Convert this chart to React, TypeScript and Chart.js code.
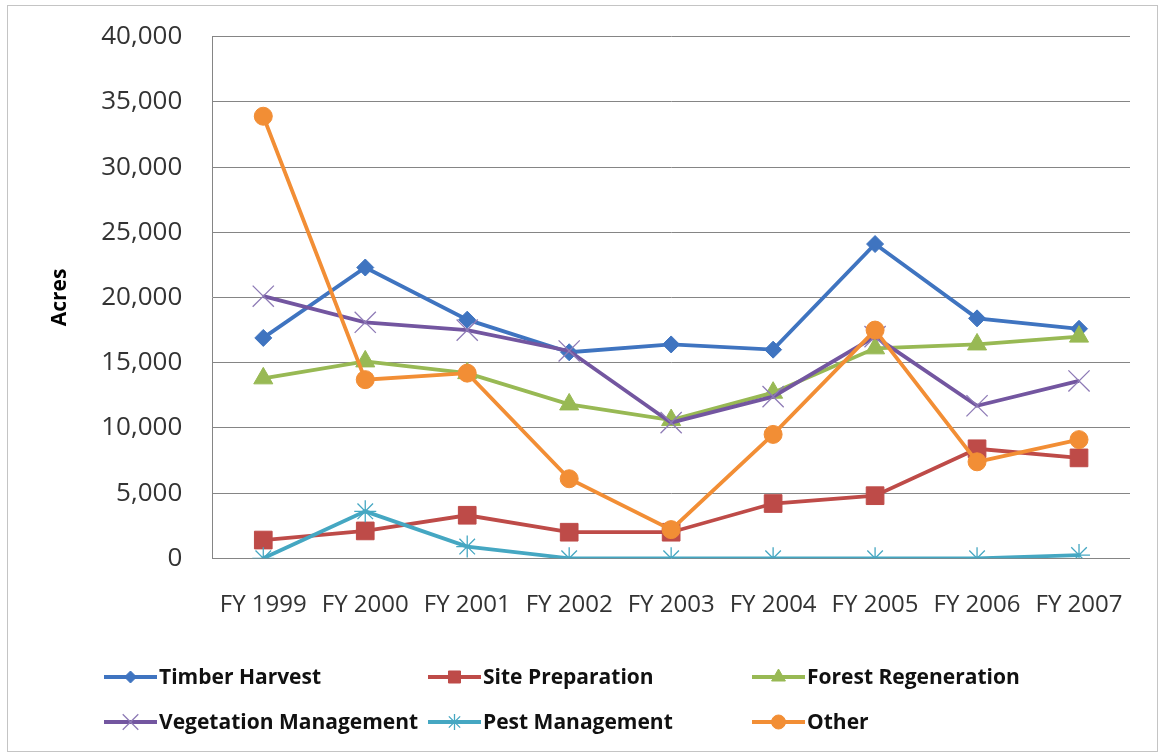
import { useEffect, useRef } from "react";
import { Chart, registerables } from "chart.js";
import { drawPoint } from "chart.js/helpers";

Chart.register(...registerables);

// Fiscal years on the category axis
const years = ["FY 1999", "FY 2000", "FY 2001", "FY 2002", "FY 2003", "FY 2004", "FY 2005", "FY 2006", "FY 2007"];

// Acres treated per activity type
const timberHarvest = [16900, 22300, 18300, 15800, 16400, 16000, 24100, 18400, 17600];
const sitePreparation = [1400, 2100, 3300, 2000, 2000, 4200, 4800, 8400, 7700];
const forestRegeneration = [13800, 15100, 14200, 11800, 10600, 12700, 16100, 16400, 17000];
const vegetationManagement = [20100, 18100, 17500, 15900, 10400, 12400, 17000, 11700, 13600];
const pestManagement = [0, 3600, 900, 0, 0, 0, 0, 0, 250];
const other = [33900, 13700, 14200, 6100, 2200, 9500, 17500, 7400, 9100];

// Value axis range
const yMin = 0;
const yMax = 40000;
const yStep = 5000;

const FONT = "'Open Sans', 'DejaVu Sans', sans-serif";

type SeriesStyle = {
  label: string;
  data: number[];
  color: string;
  pointColor: string;
  pointStyle: string;
  radius: number;
  pointBorder: number;
  lineWidth: number;
  legendRadius: number;
};

const series: SeriesStyle[] = [
  { label: "Timber Harvest", data: timberHarvest, color: "#3F74C0", pointColor: "#3F74C0", pointStyle: "rectRot", radius: 8.5, pointBorder: 1, lineWidth: 3.8, legendRadius: 6 },
  { label: "Site Preparation", data: sitePreparation, color: "#BE4B48", pointColor: "#BE4B48", pointStyle: "rect", radius: 12.5, pointBorder: 1, lineWidth: 3.8, legendRadius: 8.5 },
  { label: "Forest Regeneration", data: forestRegeneration, color: "#98B954", pointColor: "#98B954", pointStyle: "triangle", radius: 11, pointBorder: 1, lineWidth: 3.8, legendRadius: 8 },
  { label: "Vegetation Management", data: vegetationManagement, color: "#7356A0", pointColor: "#8E7BB6", pointStyle: "crossRot", radius: 15, pointBorder: 1.3, lineWidth: 3.8, legendRadius: 11 },
  { label: "Pest Management", data: pestManagement, color: "#45A7C2", pointColor: "#45A7C2", pointStyle: "star", radius: 11, pointBorder: 1.3, lineWidth: 3.8, legendRadius: 8 },
  { label: "Other", data: other, color: "#F28E35", pointColor: "#F28E35", pointStyle: "circle", radius: 9, pointBorder: 1, lineWidth: 3.8, legendRadius: 7 },
];

// Legend grid: three columns, two rows under the plot
const legendCols = [104, 428, 752];
const legendRows = [677, 722];

const framePlugin = {
  id: "frame",
  beforeDraw(chart: Chart) {
    const ctx = chart.ctx;
    ctx.save();
    ctx.fillStyle = "#ffffff";
    ctx.fillRect(0, 0, chart.width, chart.height);
    ctx.strokeStyle = "#c4c4c4";
    ctx.lineWidth = 1;
    ctx.strokeRect(7.5, 5.5, 1150, 746);
    ctx.restore();
  },
};

const legendPlugin = {
  id: "gridLegend",
  afterDraw(chart: Chart) {
    const ctx = chart.ctx;
    ctx.save();
    series.forEach((s, i) => {
      const x0 = legendCols[i % 3];
      const y = legendRows[Math.floor(i / 3)];
      ctx.strokeStyle = s.color;
      ctx.lineWidth = 4;
      ctx.lineCap = "butt";
      ctx.beginPath();
      ctx.moveTo(x0, y);
      ctx.lineTo(x0 + 53, y);
      ctx.stroke();
      ctx.fillStyle = s.pointColor;
      ctx.strokeStyle = s.pointColor;
      ctx.lineWidth = s.pointBorder;
      drawPoint(ctx, { pointStyle: s.pointStyle as any, radius: s.legendRadius, rotation: 0, borderWidth: s.pointBorder }, x0 + 26.5, y);
      ctx.fillStyle = "#111111";
      ctx.font = `bold 21px ${FONT}`;
      ctx.textAlign = "left";
      ctx.textBaseline = "middle";
      ctx.fillText(s.label, x0 + 55, y + 1);
    });
    ctx.restore();
  },
};

export default function App() {
  const canvasRef = useRef<HTMLCanvasElement | null>(null);

  useEffect(() => {
    const canvas = canvasRef.current;
    if (!canvas) return;
    const chart = new Chart(canvas, {
      type: "line",
      data: {
        labels: years,
        datasets: series.map((s, i) => ({
          label: s.label,
          data: s.data,
          borderColor: s.color,
          backgroundColor: s.pointColor,
          borderWidth: s.lineWidth,
          pointStyle: s.pointStyle as any,
          pointRadius: s.radius,
          pointHoverRadius: s.radius,
          pointBackgroundColor: s.pointColor,
          pointBorderColor: s.pointColor,
          pointBorderWidth: s.pointBorder,
          tension: 0,
          fill: false,
          order: series.length - i,
        })),
      },
      options: {
        animation: false,
        responsive: false,
        devicePixelRatio: 1,
        layout: { padding: { left: 0, top: 36.7, right: 32, bottom: 0 } },
        plugins: {
          legend: { display: false },
          tooltip: { enabled: false },
        },
        scales: {
          x: {
            offset: true,
            grid: { display: false, drawTicks: false },
            border: { display: false },
            ticks: {
              autoSkip: false,
              maxRotation: 0,
              minRotation: 0,
              padding: 32,
              color: "#333333",
              font: { family: FONT, size: 24 },
            },
            afterFit(scale: any) {
              scale.height = 754 - 558.3;
              scale.paddingLeft = 0;
              scale.paddingRight = 0;
            },
          },
          y: {
            min: yMin,
            max: yMax,
            grid: { color: "#858585", lineWidth: 1, drawTicks: false },
            border: { display: true, color: "#858585", width: 1 },
            ticks: {
              stepSize: yStep,
              padding: 30,
              color: "#333333",
              font: { family: FONT, size: 26 },
              callback: (v: any) => Number(v).toLocaleString("en-US"),
            },
            title: {
              display: true,
              text: "Acres",
              color: "#000000",
              font: { family: FONT, size: 21, weight: "bold" },
              padding: { top: 47, bottom: 0 },
            },
            afterFit(scale: any) {
              scale.width = 212.3;
              scale.paddingTop = 0;
              scale.paddingBottom = 0;
            },
          },
        },
      },
      plugins: [framePlugin, legendPlugin],
    });
    return () => chart.destroy();
  }, []);

  return (
    <div style={{ position: "absolute", left: 0, top: 0, width: 1162, height: 754, background: "#ffffff" }}>
      <canvas ref={canvasRef} width={1162} height={754} style={{ display: "block" }} />
    </div>
  );
}
